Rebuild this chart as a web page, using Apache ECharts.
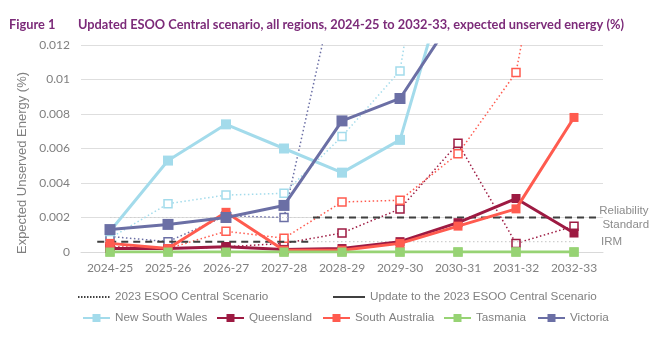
<!DOCTYPE html>
<html>
<head>
<meta charset="utf-8">
<script src="https://cdn.jsdelivr.net/npm/echarts/dist/echarts.min.js"></script>
<style>
  html, body { margin: 0; padding: 0; background: #ffffff; }
  #chart { width: 664px; height: 341px; }
</style>
</head>
<body>
<div id="chart"></div>
<script>
// Financial years on the category axis
const years = ['2024-25', '2025-26', '2026-27', '2027-28', '2028-29', '2029-30', '2030-31', '2031-32', '2032-33'];

// Update to the 2023 ESOO Central Scenario (expected unserved energy, %)
const nswUpdate = [0.0012, 0.0053, 0.0074, 0.0060, 0.0046, 0.0065, 0.0180, 0.0250, 0.0300];
const qldUpdate = [0.0002, 0.0002, 0.0003, 0.00015, 0.0002, 0.0006, 0.0017, 0.0031, 0.0011];
const saUpdate  = [0.0005, 0.0002, 0.0023, 0.0001, 0.0001, 0.0005, 0.0015, 0.0025, 0.0078];
const tasUpdate = [0, 0, 0, 0, 0, 0, 0, 0, 0];
const vicUpdate = [0.0013, 0.0016, 0.0020, 0.0027, 0.0076, 0.0089, 0.0140, 0.0200, 0.0250];

// 2023 ESOO Central Scenario (expected unserved energy, %)
const nsw2023 = [0.0008, 0.0028, 0.0033, 0.0034, 0.0067, 0.0105, 0.0310, 0.0400, 0.0500];
const qld2023 = [0.0003, 0.0002, 0.0003, 0.0005, 0.0011, 0.0025, 0.0063, 0.0005, 0.0015];
const sa2023  = [0.0003, 0.0002, 0.0012, 0.0008, 0.0029, 0.0030, 0.0057, 0.0104, 0.0280];
const tas2023 = [0, 0, 0, 0, 0, 0, 0, 0, 0];
const vic2023 = [0.0009, 0.0006, 0.0021, 0.0020, 0.0172, 0.0300, 0.0400, 0.0500, 0.0600];

// Value axis ticks
const yMin = 0, yMax = 0.012, yStep = 0.002;

// Reliability settings (value) and their extent in category units (0 = left edge of first year)
const irmValue = 0.0006;
const reliabilityStandard = 0.002;
const changeover = 4.0;                 // boundary between 2027-28 and 2028-29
const standardSpan = [0.28, 8.9];
const otherSpan = [0.5, 8.5];

const regions = [
  { name: 'New South Wales', color: '#a3dbeb', upd: nswUpdate, old: nsw2023, size: 10 },
  { name: 'Queensland',      color: '#9d1a42', upd: qldUpdate, old: qld2023, size: 9 },
  { name: 'South Australia', color: '#ff5b4f', upd: saUpdate,  old: sa2023,  size: 9 },
  { name: 'Tasmania',        color: '#97d374', upd: tasUpdate, old: tas2023, size: 9 },
  { name: 'Victoria',        color: '#6b6fa5', upd: vicUpdate, old: vic2023, size: 11 }
];

const grey = '#808080';
const tickFont = 'Lato, "Open Sans", sans-serif';
const textFont = '"Liberation Sans", Arial, sans-serif';

const series = [];

// 2023 ESOO lines: dotted with hollow squares
regions.forEach(r => {
  series.push({
    name: r.name + ' (2023 ESOO)',
    type: 'line',
    data: r.old,
    symbol: 'rect',
    symbolSize: 8,
    lineStyle: { color: r.color, width: 1.5, type: [1.5, 2.5] },
    itemStyle: { color: '#ffffff', borderColor: r.color, borderWidth: 1.5 },
    z: 2,
    animation: false
  });
});

// Reference lines (on a hidden value x-axis measured in category units)
function refLine(value, span, style, label) {
  const s = {
    type: 'line',
    xAxisIndex: 1,
    data: [[span[0], value], [span[1], value]],
    symbol: 'none',
    lineStyle: style,
    silent: true,
    z: 3,
    animation: false
  };
  if (label) s.endLabel = label;
  return s;
}
series.push(refLine(irmValue, [standardSpan[0], changeover], { color: '#3f3f3f', width: 2, type: [7, 5] }));
series.push(refLine(reliabilityStandard, [changeover, standardSpan[1]], { color: '#3f3f3f', width: 2, type: [7, 5] }, {
  show: true, formatter: 'Reliability\n Standard', color: '#8c8c8c', fontSize: 11.5,
  fontFamily: textFont, lineHeight: 14, distance: 2, align: 'left'
}));
series.push(refLine(reliabilityStandard, [otherSpan[0], changeover], { color: '#cfcfcf', width: 1.2, type: [1.5, 2.5] }));
series.push(refLine(irmValue, [changeover, otherSpan[1]], { color: '#cfcfcf', width: 1.2, type: [1.5, 2.5] }, {
  show: true, formatter: 'IRM', color: '#8c8c8c', fontSize: 11.5,
  fontFamily: textFont, distance: 27, align: 'left'
}));

// Update lines: solid with filled squares
regions.forEach((r, i) => {
  series.push({
    name: r.name,
    type: 'line',
    data: r.upd,
    symbol: 'rect',
    symbolSize: r.size,
    lineStyle: { color: r.color, width: 3 },
    itemStyle: { color: r.color },
    z: 4 + i,
    animation: false
  });
});

// Scenario key entries
series.push({ name: '2023 ESOO Central Scenario', type: 'line', data: [], symbol: 'none',
  lineStyle: { color: '#404040', width: 1.5, type: [1.5, 1.5] }, itemStyle: { color: '#404040' } });
series.push({ name: 'Update to the 2023 ESOO Central Scenario', type: 'line', data: [], symbol: 'none',
  lineStyle: { color: '#404040', width: 2.5 }, itemStyle: { color: '#404040' } });

const legendText = { color: grey, fontSize: 11.7, fontFamily: textFont };
function legendItem(name, left, top, w, lineOnly) {
  const l = { data: [name], left: left, top: top, itemWidth: w, itemHeight: 10, textStyle: legendText,
    selectedMode: false, padding: 0 };
  if (lineOnly) l.itemStyle = { opacity: 0 };
  return l;
}

const option = {
  backgroundColor: '#ffffff',
  animation: false,
  title: [
    { text: 'Figure 1', left: 9, top: 18, padding: 0,
      textStyle: { color: '#7c2b79', fontSize: 12.8, fontWeight: 'bold', fontFamily: tickFont } },
    { text: 'Updated ESOO Central scenario, all regions, 2024-25 to 2032-33, expected unserved energy (%)',
      left: 78, top: 18, padding: 0,
      textStyle: { color: '#7c2b79', fontSize: 12.8, fontWeight: 'bold', fontFamily: tickFont } }
  ],
  grid: { left: 81, right: 61, top: 45, bottom: 89 },
  xAxis: [
    {
      type: 'category', data: years, boundaryGap: true,
      axisLine: { lineStyle: { color: '#d9d9d9', width: 1 } },
      axisTick: { show: false },
      axisLabel: { color: grey, fontSize: 12, fontFamily: tickFont, margin: 10, interval: 0 }
    },
    { type: 'value', min: 0, max: 9, show: false }
  ],
  yAxis: {
    type: 'value', min: yMin, max: yMax, interval: yStep,
    axisLine: { show: false }, axisTick: { show: false },
    splitLine: { lineStyle: { color: '#dedede', width: 1 } },
    axisLabel: { color: grey, fontSize: 12, fontFamily: tickFont, margin: 11,
      formatter: v => (v === 0 ? '0' : String(+v.toFixed(3))) }
  },
  legend: [
    legendItem('2023 ESOO Central Scenario', 77, 291, 32, true),
    legendItem('Update to the 2023 ESOO Central Scenario', 332, 291, 32, true),
    legendItem('New South Wales', 82, 312, 27),
    legendItem('Queensland', 216, 312, 27),
    legendItem('South Australia', 322, 312, 27),
    legendItem('Tasmania', 443, 312, 27),
    legendItem('Victoria', 537, 312, 27)
  ],
  graphic: [
    { type: 'text', x: 22, y: 163, rotation: Math.PI / 2,
      style: { text: 'Expected Unserved Energy (%)', fill: grey, fontSize: 13,
        fontFamily: textFont, align: 'center', verticalAlign: 'middle' } }
  ],
  series: series
};

const chart = echarts.init(document.getElementById('chart'), null, { renderer: 'canvas' });
chart.setOption(option);
</script>
</body>
</html>
